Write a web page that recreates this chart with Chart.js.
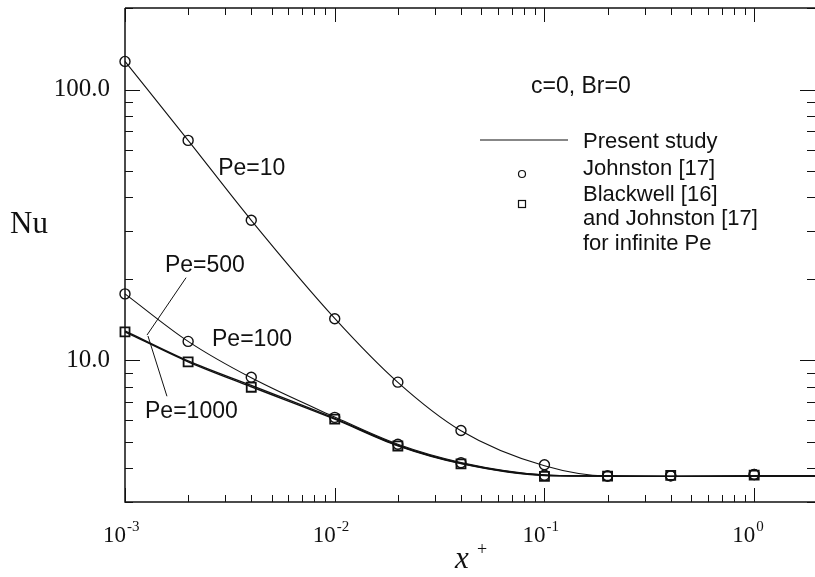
<!DOCTYPE html>
<html>
<head>
<meta charset="utf-8">
<script src="https://cdn.jsdelivr.net/npm/chart.js@4.4.1/dist/chart.umd.min.js"></script>
<style>
  html, body { margin: 0; padding: 0; background: #fff; }
  canvas { display: block; }
</style>
</head>
<body>
<canvas id="nuChart" width="815" height="577"></canvas>
<script>
// measured x+ positions (Johnston / Blackwell)
const xMarks = [0.001, 0.002, 0.004, 0.01, 0.02, 0.04, 0.1, 0.2, 0.4, 1.0];
const johnstonPe10 = [127, 64.9, 32.9, 14.25, 8.31, 5.51, 4.12, 3.74, 3.75, 3.79];
const johnstonPe100 = [17.6, 11.75, 8.66, 6.16, 4.90, 4.19, 3.77, 3.74, 3.75, 3.79];
const blackwellInf = [12.75, 9.87, 7.96, 6.07, 4.83, 4.15, 3.73, 3.74, 3.76, 3.77];

// present study curves
const xLine = [0.001, 0.002, 0.004, 0.01, 0.02, 0.04, 0.1, 0.2, 0.4, 1.0, 1.95];
const pe10Line = [127, 64.9, 32.9, 14.3, 8.3, 5.5, 4.08, 3.74, 3.73, 3.74, 3.74];
const pe100Line = [17.6, 11.75, 8.62, 6.18, 4.9, 4.2, 3.78, 3.74, 3.73, 3.74, 3.74];
const pe500Line = [12.85, 9.96, 8.08, 6.11, 4.86, 4.17, 3.77, 3.74, 3.73, 3.74, 3.74];
const pe1000Line = [12.75, 9.88, 7.99, 6.07, 4.84, 4.16, 3.76, 3.74, 3.73, 3.74, 3.74];

// axes
const xTickValues = [0.001, 0.01, 0.1, 1];
const xTickExponents = ['-3', '-2', '-1', '0'];
const yTickValues = [10, 100];
const yTickLabels = ['10.0', '100.0'];

const ink = '#111';
const serif = "'Liberation Serif', 'Times New Roman', serif";
const sans = "'Liberation Sans', Arial, sans-serif";

function pts(xs, ys) {
    return xs.map((x, i) => ({ x: x, y: ys[i] }));
}

function curve(label, ys, width) {
    return {
        type: 'line',
        label: label,
        data: pts(xLine, ys),
        borderColor: ink,
        borderWidth: width,
        pointRadius: 0,
        cubicInterpolationMode: 'monotone',
        fill: false,
        clip: false
    };
}

function marks(label, ys, style, radius, width) {
    return {
        type: 'scatter',
        label: label,
        data: pts(xMarks, ys),
        pointStyle: style,
        pointRadius: radius,
        pointBorderWidth: width,
        pointBorderColor: ink,
        pointBackgroundColor: 'rgba(255,255,255,0)',
        clip: false
    };
}

const decorations = {
    id: 'decorations',
    afterDraw(chart) {
        const ctx = chart.ctx;
        const a = chart.chartArea;
        const xs = chart.scales.x;
        const ys = chart.scales.y;
        ctx.save();
        ctx.strokeStyle = ink;
        ctx.fillStyle = ink;

        // frame: left, bottom, top (right border falls off the page)
        ctx.lineWidth = 1.5;
        ctx.beginPath();
        ctx.moveTo(a.left, a.top);
        ctx.lineTo(a.right, a.top);
        ctx.moveTo(a.left, a.top);
        ctx.lineTo(a.left, a.bottom);
        ctx.lineTo(a.right, a.bottom);
        ctx.stroke();

        // inward tick marks
        ctx.lineWidth = 1;
        ctx.beginPath();
        for (let e = -3; e <= 0; e++) {
            for (let m = 1; m <= 9; m++) {
                const v = m * Math.pow(10, e);
                if (v > xs.max) continue;
                const px = Math.round(xs.getPixelForValue(v)) + 0.5;
                const len = m === 1 ? 14 : 7;
                ctx.moveTo(px, a.bottom);
                ctx.lineTo(px, a.bottom - len);
                ctx.moveTo(px, a.top);
                ctx.lineTo(px, a.top + len);
            }
        }
        for (let e = 0; e <= 2; e++) {
            for (let m = 1; m <= 9; m++) {
                const v = m * Math.pow(10, e);
                if (v < ys.min || v > ys.max) continue;
                const py = Math.round(ys.getPixelForValue(v)) + 0.5;
                const len = m === 1 ? 15 : 8;
                ctx.moveTo(a.left, py);
                ctx.lineTo(a.left + len, py);
                ctx.moveTo(a.right, py);
                ctx.lineTo(a.right - len, py);
            }
        }
        ctx.stroke();

        // x tick labels 10^n
        xTickValues.forEach((v, i) => {
            const px = xs.getPixelForValue(v);
            ctx.font = '23px ' + serif;
            ctx.textAlign = 'right';
            ctx.textBaseline = 'alphabetic';
            ctx.fillText('10', px + 1, a.bottom + 40);
            ctx.font = '15px ' + serif;
            ctx.textAlign = 'left';
            ctx.fillText(xTickExponents[i], px + 2, a.bottom + 29);
        });

        // axis titles
        const cx = (a.left + a.right) / 2;
        ctx.font = 'italic 31px ' + serif;
        ctx.textAlign = 'left';
        ctx.fillText('x', cx - 15, a.bottom + 66);
        ctx.font = '18px ' + serif;
        ctx.fillText('+', cx + 7, a.bottom + 53);
        ctx.font = '31px ' + serif;
        ctx.fillText('Nu', 10, 233);

        // curve labels
        ctx.font = '23px ' + sans;
        ctx.textAlign = 'left';
        const lab = (t, x, y) => ctx.fillText(t, xs.getPixelForValue(x), ys.getPixelForValue(y));
        lab('Pe=10', 0.00278, 48.3);
        lab('Pe=100', 0.0026, 11.26);
        lab('Pe=500', 0.00155, 21.2);
        lab('Pe=1000', 0.001246, 6.12);

        // leader lines
        ctx.lineWidth = 1;
        const seg = (x1, y1, x2, y2) => {
            ctx.beginPath();
            ctx.moveTo(xs.getPixelForValue(x1), ys.getPixelForValue(y1));
            ctx.lineTo(xs.getPixelForValue(x2), ys.getPixelForValue(y2));
            ctx.stroke();
        };
        seg(0.001955, 20.2, 0.001273, 12.4);
        seg(0.001585, 7.37, 0.001287, 12.3);

        // legend block
        ctx.font = '23px ' + sans;
        ctx.fillText('c=0, Br=0', 531, 93);
        ctx.font = '22px ' + sans;
        ctx.fillText('Present study', 583, 148);
        ctx.fillText('Johnston [17]', 583, 175);
        ctx.fillText('Blackwell [16]', 583, 201);
        ctx.fillText('and Johnston [17]', 583, 225);
        ctx.fillText('for infinite Pe', 583, 250);
        ctx.lineWidth = 1.2;
        ctx.beginPath();
        ctx.moveTo(480, 140);
        ctx.lineTo(568, 140);
        ctx.stroke();
        ctx.beginPath();
        ctx.arc(522, 174, 3.5, 0, Math.PI * 2);
        ctx.stroke();
        ctx.strokeRect(518.5, 200.5, 7, 7);

        ctx.restore();
    }
};

const ctx = document.getElementById('nuChart').getContext('2d');
new Chart(ctx, {
    data: {
        datasets: [
            curve('Pe=10', pe10Line, 1.1),
            curve('Pe=100', pe100Line, 1.1),
            curve('Pe=500', pe500Line, 1.4),
            curve('Pe=1000', pe1000Line, 1.4),
            marks('Johnston [17] Pe=10', johnstonPe10, 'circle', 5, 1.4),
            marks('Johnston [17] Pe=100', johnstonPe100, 'circle', 5, 1.4),
            marks('Blackwell [16] / Johnston [17], infinite Pe', blackwellInf, 'rect', 6.4, 1.8)
        ]
    },
    options: {
        responsive: false,
        animation: false,
        layout: { autoPadding: false, padding: { top: 8, left: 0, right: 0, bottom: 0 } },
        plugins: {
            legend: { display: false },
            tooltip: { enabled: false }
        },
        scales: {
            x: {
                type: 'logarithmic',
                min: 0.001,
                max: 1.95,
                grid: { display: false, drawTicks: false },
                border: { display: false },
                ticks: { display: false },
                afterFit(s) {
                    s.height = 75;
                    s.paddingLeft = 0;
                    s.paddingRight = 0;
                }
            },
            y: {
                type: 'logarithmic',
                min: 3,
                max: 200,
                grid: { display: false, drawTicks: false },
                border: { display: false },
                afterBuildTicks(s) {
                    s.ticks = yTickValues.map(v => ({ value: v }));
                },
                ticks: {
                    autoSkip: false,
                    padding: 15,
                    color: ink,
                    font: { family: serif, size: 25 },
                    callback: (v, i) => yTickLabels[i]
                },
                afterFit(s) {
                    s.width = 125;
                    s.paddingTop = 0;
                    s.paddingBottom = 0;
                }
            }
        }
    },
    plugins: [decorations]
});
</script>
</body>
</html>
